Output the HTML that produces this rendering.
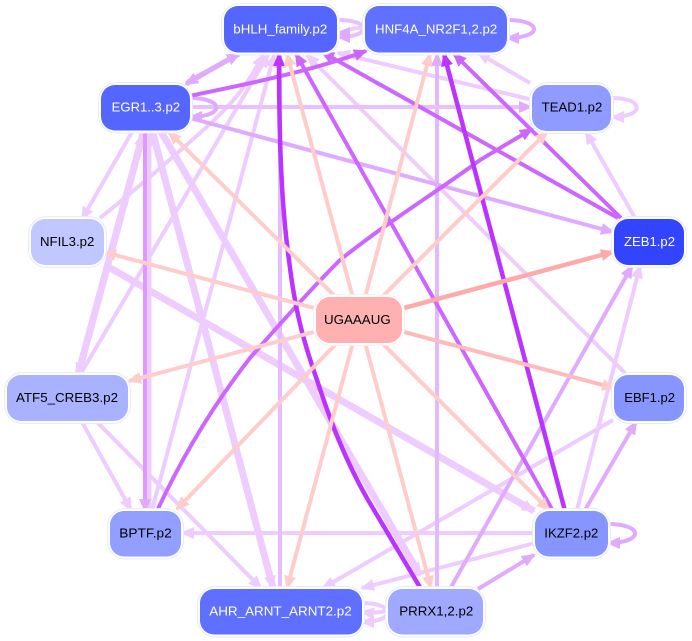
<!DOCTYPE html>
<html>
<head>
<meta charset="utf-8">
<style>
html,body{margin:0;padding:0;background:#fff;width:692px;height:641px;overflow:hidden}
svg{display:block}
path.e{fill:none;stroke-linecap:butt}
.L{stroke:#eeccff;stroke-width:4;marker-end:url(#mL)}
.T{stroke:#eeccff;stroke-width:7;marker-end:url(#mL)}
.M{stroke:#e0aaff;stroke-width:4;marker-end:url(#mM)}
.D{stroke:#cc66ff;stroke-width:4;marker-end:url(#mD)}
.B{stroke:#bb33ff;stroke-width:4.5;marker-end:url(#mB)}
.P{stroke:#ffcccc;stroke-width:4;marker-end:url(#mP)}
.R{stroke:#ffaaaa;stroke-width:4.5;marker-end:url(#mR)}
text{font-family:"Liberation Sans",sans-serif;font-size:13px}
.o{fill:#fff;stroke:#e8eaff;stroke-width:1}
.b{fill:#000}
</style>
</head>
<body>
<svg width="692" height="641" viewBox="0 0 692 641" xmlns="http://www.w3.org/2000/svg">
<defs>
<marker id="mL" markerUnits="userSpaceOnUse" markerWidth="14" markerHeight="12" refX="12" refY="6" orient="auto"><path d="M0 0L14 6L0 12Z" fill="#eeccff"/></marker>
<marker id="mM" markerUnits="userSpaceOnUse" markerWidth="14" markerHeight="12" refX="12" refY="6" orient="auto"><path d="M0 0L14 6L0 12Z" fill="#e0aaff"/></marker>
<marker id="mD" markerUnits="userSpaceOnUse" markerWidth="14" markerHeight="12" refX="12" refY="6" orient="auto"><path d="M0 0L14 6L0 12Z" fill="#cc66ff"/></marker>
<marker id="mB" markerUnits="userSpaceOnUse" markerWidth="14" markerHeight="12" refX="12" refY="6" orient="auto"><path d="M0 0L14 6L0 12Z" fill="#bb33ff"/></marker>
<marker id="mP" markerUnits="userSpaceOnUse" markerWidth="14" markerHeight="12" refX="12" refY="6" orient="auto"><path d="M0 0L14 6L0 12Z" fill="#ffcccc"/></marker>
<marker id="mR" markerUnits="userSpaceOnUse" markerWidth="14" markerHeight="12" refX="12" refY="6" orient="auto"><path d="M0 0L14 6L0 12Z" fill="#ffaaaa"/></marker>
</defs>

<!-- light thick edges -->
<path class="e T" d="M160 130L420 575"/>
<path class="e T" d="M152 130L273 588"/>
<path class="e T" d="M105 265L534 511"/>
<path class="e T" d="M78 375L143 134"/>
<path class="e T" d="M143 134L78 375"/>
<path class="e T" d="M148 510L148 134"/>

<!-- light edges -->
<path class="e L" d="M100 218C135 190 170 160 200 133S245 90 263 55"/>
<path class="e L" d="M80 375L268 55"/>
<path class="e L" d="M152 510L274 55"/>
<path class="e L" d="M132 132L82 219"/>
<path class="e L" d="M82 422L131 510"/>
<path class="e L" d="M97 422L261 588"/>
<path class="e L" d="M535 533L182 533"/>
<path class="e L" d="M613 420L323 588"/>
<path class="e L" d="M535 543L362 588"/>
<path class="e L" d="M577 510L640 266"/>
<path class="e L" d="M627 375L307 55"/>
<path class="e L" d="M533 100L338 53"/>
<path class="e L" d="M530 83L478 53"/>
<path class="e L" d="M635 218L586 132"/>
<path class="e L" d="M280 589L280 56" style="stroke:#e6bcff"/>

<!-- mid edges -->
<path class="e M" d="M437 589L437 54" style="stroke:#e4b8ff"/>
<path class="e M" d="M190 107L531 107" style="stroke:#e8c0ff"/>
<path class="e M" d="M190 118L613 232"/>
<path class="e M" d="M188 82L239 54" style="stroke-width:5"/>
<path class="e M" d="M238 54L186 84" style="stroke-width:5"/>
<path class="e M" d="M145 132L145 511" style="stroke:#dd99ff"/>
<path class="e M" d="M478 589L534 555"/>
<path class="e M" d="M450 589L632 266"/>
<path class="e M" d="M585 510L636 422"/>

<!-- self loops -->
<path class="e M" d="M338 20C372 20 372 37 338 37" style="stroke:#e8c0ff"/>
<path class="e M" d="M364 28C350 27 345 33 338 33" style="stroke:#eeccff"/>
<path class="e M" d="M507 20C543 20 543 38 507 38"/>
<path class="e L" d="M612 98C645 98 645 117 612 117"/>
<path class="e M" d="M190 98C225 98 225 117 190 117"/>
<path class="e M" d="M608 524C644 524 644 543 608 543"/>
<path class="e L" d="M362 603C396 603 396 622 362 622"/>
<path class="e L" d="M388 611C375 613 370 613 362 612"/>

<!-- dark edges -->
<path class="e D" d="M190 96C225 88 300 75 366 51"/>
<path class="e D" d="M157 511C190 440 225 390 250 358C285 318 315 285 340 260C390 220 440 190 480 160L532 129"/>
<path class="e D" d="M618 218L322 52"/>
<path class="e D" d="M621 218L454 54"/>
<path class="e D" d="M553 511L296 54"/>
<path class="e B" d="M565 511L444 54"/>
<path class="e B" d="M421 589L368 500C345 460 330 420 317 380C303 340 295 310 289 260C282 210 279 150 279 54"/>

<!-- pink edges -->
<path class="e P" d="M359 320L169 132"/>
<path class="e P" d="M359 320L287 54"/>
<path class="e P" d="M359 320L430 54"/>
<path class="e P" d="M359 320L547 132"/>
<path class="e R" d="M359 320L613 252"/>
<path class="e P" d="M359 320L614 388" style="stroke:#ffbbbb"/>
<path class="e P" d="M359 320L549 510"/>
<path class="e P" d="M359 320L431 588"/>
<path class="e P" d="M359 320L287 588"/>
<path class="e P" d="M359 320L177 509"/>
<path class="e P" d="M359 320L129 381"/>
<path class="e P" d="M359 320L104 252"/>

<!-- nodes -->
<rect class="o" x="221.5" y="3.5" width="118" height="51.5" rx="18"/>
<rect x="224" y="6" width="113" height="46.5" rx="14" fill="#5566ff"/>
<text x="233.3" y="33.5" textLength="94" lengthAdjust="spacingAndGlyphs" style="fill:#fff">bHLH_family.p2</text>

<rect class="o" x="362.5" y="3.5" width="147" height="51.5" rx="18"/>
<rect x="365" y="6" width="142" height="46.5" rx="14" fill="#6070ff"/>
<text x="375" y="33.5" textLength="122.3" lengthAdjust="spacingAndGlyphs" style="fill:#fff">HNF4A_NR2F1,2.p2</text>

<rect class="o" x="98.5" y="82.5" width="94" height="50.5" rx="18"/>
<rect x="101" y="85" width="89" height="45.5" rx="14" fill="#5566ff"/>
<text x="111.7" y="111.5" textLength="68.3" lengthAdjust="spacingAndGlyphs" style="fill:#fff">EGR1..3.p2</text>

<rect class="o" x="529.5" y="82.5" width="84" height="51" rx="18"/>
<rect x="532" y="85" width="79" height="46" rx="14" fill="#8f9bff"/>
<text class="b" x="541.7" y="111.5" textLength="60.6" lengthAdjust="spacingAndGlyphs">TEAD1.p2</text>

<rect class="o" x="28.5" y="216.5" width="78" height="51" rx="18"/>
<rect x="31" y="219" width="73" height="46" rx="14" fill="#c0c8ff"/>
<text class="b" x="40" y="246" textLength="54.3" lengthAdjust="spacingAndGlyphs">NFIL3.p2</text>

<rect class="o" x="611.5" y="216.5" width="75" height="51" rx="18"/>
<rect x="614" y="219" width="70" height="46" rx="14" fill="#3344ff"/>
<text x="624" y="246" textLength="51" lengthAdjust="spacingAndGlyphs" style="fill:#fff">ZEB1.p2</text>

<rect class="o" x="313.5" y="294.5" width="91" height="51" rx="18" style="stroke:#ffeeee"/>
<rect x="316" y="297" width="86" height="46" rx="14" fill="#ffb0b0"/>
<text class="b" x="324" y="324" textLength="66.7" lengthAdjust="spacingAndGlyphs">UGAAAUG</text>

<rect class="o" x="4.5" y="372.5" width="126" height="51" rx="18"/>
<rect x="7" y="375" width="121" height="46" rx="14" fill="#a8b2ff"/>
<text class="b" x="16" y="402" textLength="102" lengthAdjust="spacingAndGlyphs">ATF5_CREB3.p2</text>

<rect class="o" x="611.5" y="372.5" width="75" height="51" rx="18"/>
<rect x="614" y="375" width="70" height="46" rx="14" fill="#8795ff"/>
<text class="b" x="624.3" y="402" textLength="50.7" lengthAdjust="spacingAndGlyphs">EBF1.p2</text>

<rect class="o" x="107.5" y="508.5" width="76" height="50.5" rx="18"/>
<rect x="110" y="511" width="71" height="45.5" rx="14" fill="#929fff"/>
<text class="b" x="119.3" y="537.5" textLength="52.4" lengthAdjust="spacingAndGlyphs">BPTF.p2</text>

<rect class="o" x="532.5" y="508.5" width="78" height="50.5" rx="18"/>
<rect x="535" y="511" width="73" height="45.5" rx="14" fill="#8795ff"/>
<text class="b" x="544.3" y="537.5" textLength="54" lengthAdjust="spacingAndGlyphs">IKZF2.p2</text>

<rect class="o" x="197.5" y="586.5" width="167" height="50.5" rx="18"/>
<rect x="200" y="589" width="162" height="45.5" rx="14" fill="#5f6fff"/>
<text x="209.3" y="615.5" textLength="142.4" lengthAdjust="spacingAndGlyphs" style="fill:#fff">AHR_ARNT_ARNT2.p2</text>

<rect class="o" x="385.5" y="586.5" width="100" height="50.5" rx="18"/>
<rect x="388" y="589" width="95" height="45.5" rx="14" fill="#9ea9ff"/>
<text class="b" x="399.3" y="615.5" textLength="74" lengthAdjust="spacingAndGlyphs">PRRX1,2.p2</text>
</svg>
</body>
</html>
